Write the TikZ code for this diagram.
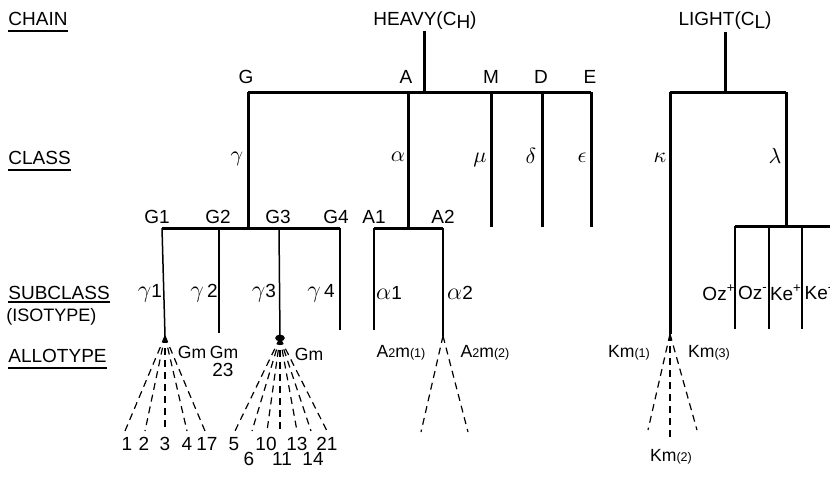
\documentclass[tikz,border=0pt]{standalone}
\usepackage{fontspec}
\setmainfont{Liberation Sans}
\usetikzlibrary{positioning}
\newcommand{\sub}[1]{{\fontsize{6.3}{7}\selectfont #1}}

\begin{document}
\begin{tikzpicture}[x=0.5pt,y=-0.5pt,
  every node/.style={font=\fontsize{9.5}{11}\selectfont,inner sep=0pt},
  heading/.style={anchor=base west},
  small/.style={font=\fontsize{8.8}{10}\selectfont},
  greek/.style={font=\fontsize{11}{12}\selectfont},
  uline/.style={line width=1pt},
  thickline/.style={line width=1.5pt},
  thinline/.style={line width=0.75pt},
  fan/.style={line width=0.6pt,dash pattern=on 3.5pt off 2.5pt}
]
\useasboundingbox (0,0) rectangle (830,477);

% level headings
\node[heading] (chain) at (8,25) {CHAIN};
\node[heading] (class) at (8,164) {CLASS};
\node[heading] (subclass) at (8,299) {SUBCLASS};
\node[heading,font=\fontsize{9}{10}\selectfont] (isotype) at (6,321) {(ISOTYPE)};
\node[heading] (allotype) at (8,362) {ALLOTYPE};
\draw[uline] ([yshift=-3.2pt]chain.base west) -- ([yshift=-3.2pt]chain.base east);
\draw[uline] ([yshift=-3.2pt]class.base west) -- ([yshift=-3.2pt]class.base east);
\draw[uline] ([yshift=-1.5pt]subclass.base west) -- ([yshift=-1.5pt]subclass.base east);
\draw[uline] ([yshift=-2.8pt]allotype.base west) -- ([yshift=-2.8pt]allotype.base east);

% heavy chain
\node[anchor=base] (heavy) at (425,25) {HEAVY(C\raisebox{-1.5pt}{H})};
\coordinate (htop) at (424,31);
\coordinate (hjoin) at (424,92);
\coordinate (gtop) at (248,92);
\coordinate (atop) at (408,92);
\coordinate (mtop) at (491,92);
\coordinate (dtop) at (542,92);
\coordinate (etop) at (591,92);
\coordinate (gbot) at (248,228);
\coordinate (abot) at (408,228);
\coordinate (mbot) at (491,227);
\coordinate (dbot) at (542,227);
\coordinate (ebot) at (591,227);
\draw[thickline] (htop) -- (hjoin);
\draw[thickline] (gtop) -- (etop);
\draw[thickline] (gtop) -- (gbot);
\draw[thickline] (atop) -- (abot);
\draw[thickline] (mtop) -- (mbot);
\draw[thickline] (dtop) -- (dbot);
\draw[thickline] (etop) -- (ebot);
\node (glbl) at (246,77) {G};
\node (albl) at (406,77) {A};
\node (mlbl) at (491,77) {M};
\node (dlbl) at (541,77) {D};
\node (elbl) at (590,77) {E};
\node[greek] (gamma) at (237,159) {$\gamma$};
\node[greek] (alpha) at (398,157) {$\alpha$};
\node[greek] (mu) at (480,160) {$\mu$};
\node[greek] (delta) at (531,156) {$\delta$};
\node[greek] (eps) at (582,158) {$\epsilon$};

% IgG subclasses
\coordinate (g1) at (162,228);
\coordinate (g2) at (219,228);
\coordinate (g3) at (279,228);
\coordinate (g4) at (340,228);
\coordinate (g1fan) at (165,336);
\coordinate (g2bot) at (219,333);
\coordinate (g3fan) at (280,338);
\coordinate (g4bot) at (340,330);
\draw[thickline] (g1) -- (g4);
\draw[thinline] (g1) -- (g1fan);
\draw[thinline] (g2) -- (g2bot);
\draw[thinline] (g3) -- (g3fan);
\draw[thinline] (g4) -- (g4bot);
\node (g1lbl) at (157,217) {G1};
\node (g2lbl) at (218,217) {G2};
\node (g3lbl) at (278,217) {G3};
\node (g4lbl) at (336,217) {G4};
\node (gam1) at (150,293) {{\large$\gamma$}1};
\node (gam2) at (204,293) {{\large$\gamma$}\,2};
\node (gam3) at (264,293) {{\large$\gamma$}3};
\node (gam4) at (321,293) {{\large$\gamma$}\,4};

% IgA subclasses
\coordinate (a1) at (374,228);
\coordinate (a2) at (443,228);
\coordinate (a1bot) at (374,330);
\coordinate (a2fan) at (443,336);
\draw[thickline] (a1) -- (a2);
\draw[thinline] (a1) -- (a1bot);
\draw[thinline] (a2) -- (a2fan);
\node (a1lbl) at (374,217) {A1};
\node (a2lbl) at (443,217) {A2};
\node (alp1) at (389,293) {{\large$\alpha$}1};
\node (alp2) at (460,293) {{\large$\alpha$}2};

% Gm allotypes of gamma 1
\foreach \x [count=\i] in {125,145,165,187,205} {
  \coordinate (ga\i) at (\x,431);
  \draw[fan] (g1fan) -- (ga\i);
}
\node (n1) at (127,444) {1};
\node (n2) at (144,444) {2};
\node (n3) at (165,444) {3};
\node (n4) at (187,444) {4};
\node (n17) at (207,444) {17};
\node[small] (gm1) at (192,352) {Gm};
\node[small] (gm2) at (224,352) {Gm};
\node (n23) at (223,370) {23};

% Gm allotypes of gamma 3
\fill (g3fan) ellipse [x radius=2.4pt, y radius=1.7pt];
\foreach \x [count=\i] in {235,252,267,280,297,311,327} {
  \coordinate (gb\i) at (\x,431);
  \draw[fan] (g3fan) -- (gb\i);
}
\node (n5) at (234,444) {5};
\node (n6) at (249,459) {6};
\node (n10) at (266,444) {10};
\node (n11) at (282,459) {11};
\node (n13) at (297,444) {13};
\node (n14) at (313,459) {14};
\node (n21) at (327,444) {21};
\node[small] (gm3) at (309,354) {Gm};

% A2m allotypes
\coordinate (am1) at (421,432);
\coordinate (am2) at (468,432);
\draw[fan] (a2fan) -- (am1);
\draw[fan] (a2fan) -- (am2);
\node[small] (a2m1) at (401,353) {A\sub{2}m\sub{(1)}};
\node[small] (a2m2) at (485,353) {A\sub{2}m\sub{(2)}};

% light chain
\node[anchor=base] (light) at (725,25) {LIGHT(C\raisebox{-1.5pt}{L})};
\coordinate (ltop) at (725,32);
\coordinate (ljoin) at (725,92);
\coordinate (ktop) at (670,92);
\coordinate (lamtop) at (786,92);
\coordinate (kfan) at (670,334);
\coordinate (lambot) at (786,226);
\draw[thickline] (ltop) -- (ljoin);
\draw[thickline] (ktop) -- (lamtop);
\draw[thickline] (ktop) -- (kfan);
\draw[thickline] (lamtop) -- (lambot);
\node[greek] (kappa) at (660,158) {$\kappa$};
\node[greek] (lambda) at (775,156) {$\lambda$};

% lambda isotypes
\coordinate (oz1) at (735,226);
\coordinate (oz2) at (769,226);
\coordinate (ke1) at (802,226);
\coordinate (ke2) at (840,226);
\draw[thickline] (oz1) -- (ke2);
\coordinate (oz1bot) at (735,329);
\coordinate (oz2bot) at (769,329);
\coordinate (ke1bot) at (802,329);
\draw[thinline] (oz1) -- (oz1bot);
\draw[thinline] (oz2) -- (oz2bot);
\draw[thinline] (ke1) -- (ke1bot);
\node (ozp) at (719,293) {Oz\textsuperscript{+}};
\node (ozm) at (753,293) {Oz\textsuperscript{-}};
\node (kep) at (786,293) {Ke\textsuperscript{+}};
\node (kem) at (819,293) {Ke\textsuperscript{-}};

% Km allotypes
\coordinate (km1end) at (648,430);
\coordinate (km2end) at (670,438);
\coordinate (km3end) at (697,430);
\draw[fan] (kfan) -- (km1end);
\draw[fan] (kfan) -- (km2end);
\draw[fan] (kfan) -- (km3end);
\node[small] (km1) at (629,353) {Km\sub{(1)}};
\node[small] (km3) at (709,353) {Km\sub{(3)}};
\node[small] (km2) at (671,457) {Km\sub{(2)}};
\end{tikzpicture}
\end{document}
